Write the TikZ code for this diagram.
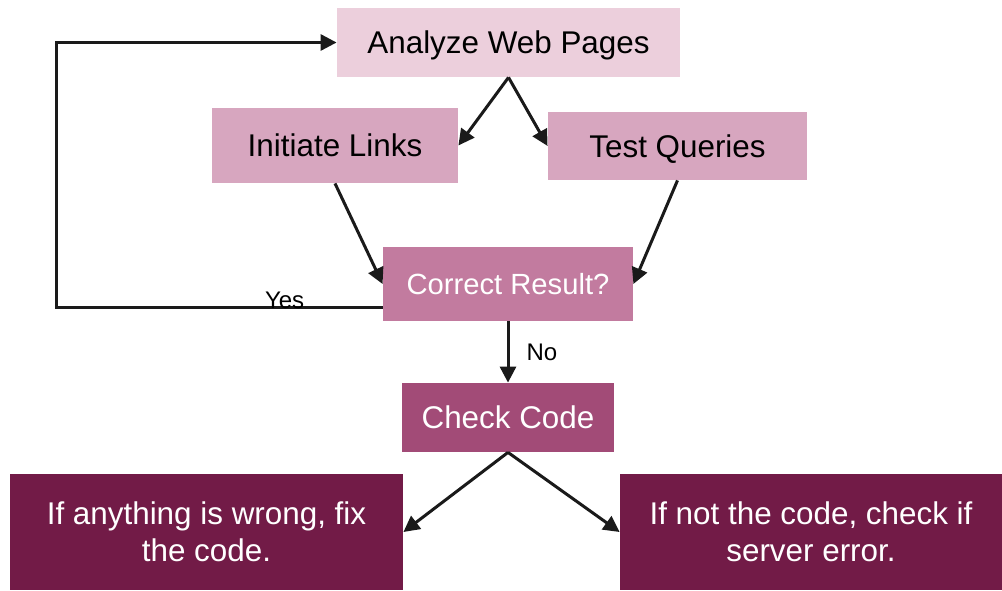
\documentclass[tikz,border=0pt]{standalone}
\usepackage{fontspec}
\setmainfont{Liberation Sans}
\usetikzlibrary{arrows.meta,positioning}
\definecolor{palepink}{HTML}{ECCFDC}
\definecolor{midpink}{HTML}{D7A6BF}
\definecolor{rosepink}{HTML}{C27B9F}
\definecolor{plum}{HTML}{A24B77}
\definecolor{wine}{HTML}{721B47}
\definecolor{inkline}{HTML}{1A1A1A}

\begin{document}
\begin{tikzpicture}[x=0.5pt,y=-0.5pt,
  box/.style={inner sep=0pt, align=center,
    font=\fontsize{15.7}{18.5}\selectfont},
  flow/.style={draw=inkline, line width=1.5pt,
    -{Triangle[length=8pt,width=8pt]}},
  tag/.style={font=\fontsize{12}{14}\selectfont, inner sep=0.5pt}]
\useasboundingbox (0,0) rectangle (1002,590);

\node[box, fill=palepink, minimum width=171.5pt, minimum height=34.5pt, text depth=0pt] (analyze) at (508.5,42.5) {Analyze Web Pages};
\node[box, fill=midpink, minimum width=123pt, minimum height=37.5pt] (links) at (335,145.5) {Initiate Links};
\node[box, fill=midpink, minimum width=129.5pt, minimum height=34pt, text depth=0pt] (queries) at (677.5,146) {Test Queries};
\node[box, fill=rosepink, text=white, minimum width=125pt, minimum height=37pt,
  font=\fontsize{14.6}{17}\selectfont] (result) at (508,284) {Correct Result?};
\node[box, fill=plum, text=white, minimum width=106pt, minimum height=34.5pt] (check) at (508,417.5) {Check Code};
\node[box, fill=wine, text=white, minimum width=196.5pt, minimum height=58pt] (fixcode) at (206.5,532) {If anything is wrong, fix\\the code.};
\node[box, fill=wine, text=white, minimum width=191pt, minimum height=58pt] (server) at (811,532) {If not the code, check if\\server error.};

\coordinate (loop) at (56,307);

\draw[flow] (analyze.south) -- (links.east);
\draw[flow] (analyze.south) -- (queries.west);
\draw[flow] (links.south) -- (result.west);
\draw[flow] (queries.south) -- (result.east);
\draw[flow] ([yshift=-11.5pt]result.west) -- node[tag, above, pos=0.3, yshift=-2pt] {Yes} (loop) |- (analyze.west);
\draw[flow] (result.south) -- node[tag, right=8pt] {No} (check.north);
\draw[flow] (check.south) -- (fixcode.east);
\draw[flow] (check.south) -- (server.west);
\end{tikzpicture}
\end{document}
